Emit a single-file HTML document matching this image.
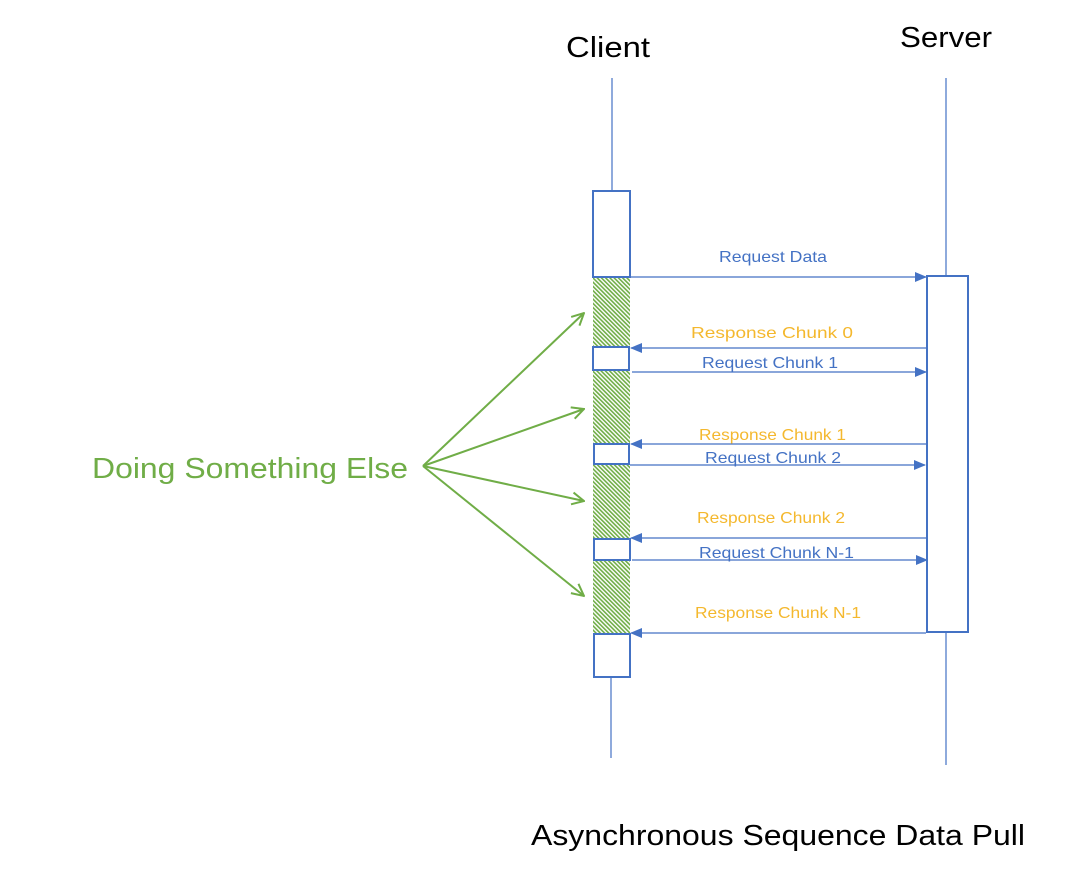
<!DOCTYPE html>
<html><head><meta charset="utf-8"><style>
html,body{margin:0;padding:0;background:#fff;}
svg{display:block;}
text{font-family:"Liberation Sans",sans-serif;}
</style></head><body>
<svg width="1065" height="882" viewBox="0 0 1065 882" xmlns="http://www.w3.org/2000/svg">
<defs>
<pattern id="h" patternUnits="userSpaceOnUse" width="3" height="3" patternTransform="rotate(-45)">
<rect width="3" height="3" fill="#fff"/><rect width="1.6" height="3" fill="#70ad47"/>
</pattern>
<marker id="fa" markerWidth="12" markerHeight="10" refX="11" refY="5" orient="auto" markerUnits="userSpaceOnUse">
<path d="M0,0 L12,5 L0,10 z" fill="#4472c4"/></marker>
<marker id="ga" markerWidth="14" markerHeight="14" refX="13" refY="7" orient="auto" markerUnits="userSpaceOnUse">
<path d="M1,1 L13,7 L1,13" fill="none" stroke="#70ad47" stroke-width="2"/></marker>
</defs>
<text x="566" y="57" font-size="29" textLength="84" lengthAdjust="spacingAndGlyphs" fill="#000">Client</text>
<text x="900" y="47" font-size="29" textLength="92" lengthAdjust="spacingAndGlyphs" fill="#000">Server</text>
<text x="531" y="845" font-size="29" textLength="494" lengthAdjust="spacingAndGlyphs" fill="#000">Asynchronous Sequence Data Pull</text>
<g stroke="#4472c4" stroke-width="1.2">
<line x1="612" y1="78" x2="612" y2="191"/>
<line x1="611" y1="677" x2="611" y2="758"/>
<line x1="946" y1="78" x2="946" y2="276"/>
<line x1="946" y1="632" x2="946" y2="765"/>
</g>
<g fill="url(#h)">
<rect x="593" y="277" width="37" height="70"/>
<rect x="593" y="371" width="37" height="73"/>
<rect x="593" y="464" width="37" height="75"/>
<rect x="593" y="560" width="37" height="74"/>
</g>
<g fill="#fff" stroke="#4472c4" stroke-width="2">
<rect x="593" y="191" width="37" height="86"/>
<rect x="593" y="347" width="36" height="23"/>
<rect x="594" y="444" width="35" height="20"/>
<rect x="594" y="539" width="36" height="21"/>
<rect x="594" y="634" width="36" height="43"/>
<rect x="927" y="276" width="41" height="356"/>
</g>
<g stroke="#4472c4" stroke-width="1.3" marker-end="url(#fa)">
<line x1="631" y1="277" x2="926" y2="277"/>
<line x1="926" y1="348" x2="631" y2="348"/>
<line x1="632" y1="372" x2="926" y2="372"/>
<line x1="926" y1="444" x2="631" y2="444"/>
<line x1="630" y1="465" x2="925" y2="465"/>
<line x1="926" y1="538" x2="631" y2="538"/>
<line x1="632" y1="560" x2="927" y2="560"/>
<line x1="926" y1="633" x2="631" y2="633"/>
</g>
<g font-size="16" lengthAdjust="spacingAndGlyphs">
<text x="719" y="262" textLength="108" lengthAdjust="spacingAndGlyphs" fill="#4472c4">Request Data</text>
<text x="691" y="338" textLength="162" lengthAdjust="spacingAndGlyphs" fill="#f4b82e">Response Chunk 0</text>
<text x="702" y="368" textLength="136" lengthAdjust="spacingAndGlyphs" fill="#4472c4">Request Chunk 1</text>
<text x="699" y="440" textLength="147" lengthAdjust="spacingAndGlyphs" fill="#f4b82e">Response Chunk 1</text>
<text x="705" y="463" textLength="136" lengthAdjust="spacingAndGlyphs" fill="#4472c4">Request Chunk 2</text>
<text x="697" y="523" textLength="148" lengthAdjust="spacingAndGlyphs" fill="#f4b82e">Response Chunk 2</text>
<text x="699" y="558" textLength="155" lengthAdjust="spacingAndGlyphs" fill="#4472c4">Request Chunk N-1</text>
<text x="695" y="618" textLength="166" lengthAdjust="spacingAndGlyphs" fill="#f4b82e">Response Chunk N-1</text>
</g>
<text x="92" y="478" font-size="29" textLength="316" lengthAdjust="spacingAndGlyphs" fill="#70ad47">Doing Something Else</text>
<g stroke="#70ad47" stroke-width="2" marker-end="url(#ga)">
<line x1="423" y1="466" x2="584" y2="313"/>
<line x1="423" y1="466" x2="584" y2="409"/>
<line x1="423" y1="466" x2="584" y2="501"/>
<line x1="423" y1="466" x2="584" y2="596"/>
</g>
</svg>
</body></html>
